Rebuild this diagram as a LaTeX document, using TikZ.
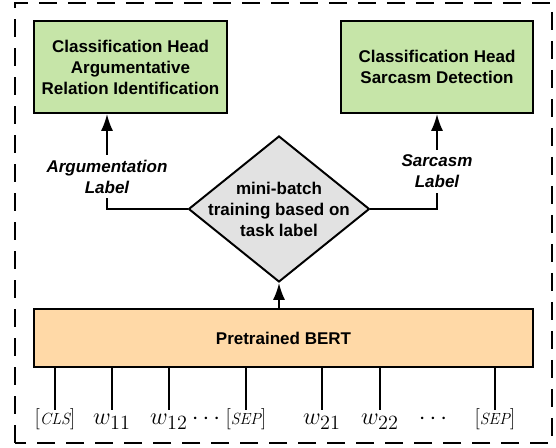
\documentclass[tikz,border=0pt]{standalone}
\usepackage{fontspec}
\newfontfamily\arialfont{Liberation Sans}
\usepackage{xcolor}
\usetikzlibrary{arrows.meta, positioning, shapes.geometric}

\definecolor{headgreen}{RGB}{198,229,168}
\definecolor{bertorange}{RGB}{255,217,167}
\definecolor{decgray}{RGB}{226,226,226}

\newcommand{\spectok}[1]{{\fontsize{15}{18}\selectfont[{\fontsize{11.5}{14}\selectfont\itshape #1}]}}

\begin{document}
\begin{tikzpicture}[>=latex, font=\arialfont\bfseries\fontsize{12.1}{14.9}\selectfont]
		\tikzstyle{head} = [draw=black, line width=1.4pt, fill=headgreen, rectangle, minimum width=4.825cm, minimum height=2.3cm, align=center]
		\tikzstyle{bert} = [draw=black, line width=1.4pt, fill=bertorange, rectangle, minimum width=12.475cm, minimum height=1.45cm]
		\tikzstyle{decision} = [draw=black, line width=1.4pt, fill=decgray, diamond, shape aspect=1.24, inner xsep=-0.4cm, inner ysep=0pt, minimum width=4.525cm, minimum height=3.65cm, align=center]
		\tikzstyle{lbl} = [font=\arialfont\bfseries\itshape\fontsize{12.1}{14.9}\selectfont, align=center, inner ysep=3.5pt]
		\tikzstyle{tok} = [font=\fontsize{19}{22}\selectfont, inner sep=0pt, text height=0.375cm, text depth=0.2cm, anchor=base]
		\tikzstyle{conn} = [line width=1.4pt]
		\tikzstyle{arrow} = [line width=1.4pt, -{Latex[length=0.42cm, width=0.3cm]}]
		
		\useasboundingbox (0,0) rectangle (13.9,11.2);
		\draw[line width=1.4pt, dash pattern=on 0.45cm off 0.275cm] (0.375,0.125) rectangle (13.8,11.125);
		
		\node[head] at (3.2625, 9.525) (arghead) {Classification Head\\Argumentative\\Relation Identification};
		\node[head, minimum width=4.8cm] at (10.925, 9.525) (sarchead) {Classification Head\\Sarcasm Detection};
		
		\node[decision] at (6.975, 5.975) (batch) {mini-batch\\training based on\\task label};
		\node[lbl] at (2.675, 6.7875) (arglbl) {Argumentation\\Label};
		\node[lbl] at (10.925, 6.9125) (sarclbl) {Sarcasm\\Label};
		
		\node[bert] at (7.0875, 2.75) (bert) {Pretrained BERT};
		
		% input tokens
		\node[tok] at (1.375, 0.575) (t1) {\spectok{CLS}};
		\node[tok] at (2.8, 0.575) (t2) {$w_{11}$};
		\node[tok] at (4.225, 0.575) (t3) {$w_{12}$};
		\node[tok] at (5.15, 0.575) (dots1) {$\cdots$};
		\node[tok] at (6.15, 0.575) (t4) {\spectok{SEP}};
		\node[tok] at (8.05, 0.575) (t5) {$w_{21}$};
		\node[tok] at (9.5, 0.575) (t6) {$w_{22}$};
		\node[tok] at (10.825, 0.575) (dots2) {$\cdots$};
		\node[tok] at (12.375, 0.575) (t7) {\spectok{SEP}};
		
		\foreach \i in {1,...,7}
			\draw[conn] (bert.south -| t\i.north) -- (t\i.north);
		
		\draw [arrow] (bert.north -| batch.south) -- (batch.south);
		
		\draw [conn] (batch.west) -| (arglbl.south);
		\draw [arrow] (arglbl.north) -- (arglbl.north |- arghead.south);
		\draw [conn] (batch.east) -| (sarclbl.south);
		\draw [arrow] (sarclbl.north) -- (sarchead.south);
	\end{tikzpicture}
\end{document}
